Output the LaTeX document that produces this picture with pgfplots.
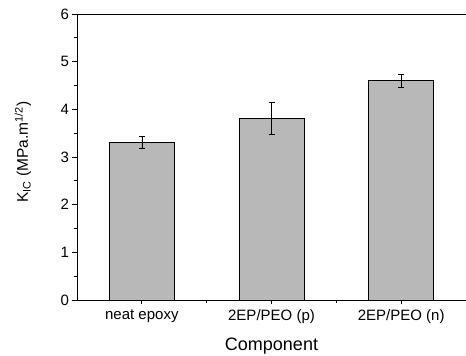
\documentclass[border=0pt]{standalone}
\usepackage{fontspec}
\setmainfont{Liberation Sans}
\usepackage{pgfplots}
\pgfplotsset{compat=1.18}
\begin{document}
\begin{tikzpicture}
\begin{axis}[
  width=389pt, height=286pt, scale only axis,
  xmin=-0.5, xmax=2.5, ymin=0, ymax=6,
  axis x line*=box, axis y line*=left,
  xtick pos=bottom,
  xtick={0,1,2}, xticklabels={neat epoxy,2EP/PEO (p),2EP/PEO (n)},
  minor xtick={0.5,1.5},
  ytick={0,1,2,3,4,5,6}, minor ytick={0.5,1.5,2.5,3.5,4.5,5.5},
  tick align=outside,
  major tick length=4.5pt, minor tick length=3pt,
  tick style={black, line width=0.7pt},
  axis line style={line width=0.9pt},
  ticklabel style={font=\fontsize{15}{17}\selectfont},
  /pgf/number format/assume math mode=true,
  xlabel={Component}, ylabel={K\textsubscript{IC} (MPa.m\textsuperscript{1/2})},
  every axis x label/.style={at={([yshift=-46pt]axis description cs:0.5,0)}, anchor=center, font=\fontsize{18}{20}\selectfont},
  every axis y label/.style={at={([xshift=-54pt,yshift=5pt]axis description cs:0,0.5)}, anchor=center, rotate=90, font=\fontsize{15.5}{18}\selectfont},
  xticklabel style={yshift=-2pt},
  clip=false,
]
\addplot[ybar, bar width=65pt, draw=black, line width=0.7pt, fill=black!28,
  error bars/.cd, y dir=both, y explicit,
  error bar style={black, line width=0.6pt},
  error mark options={rotate=90, mark size=3pt, line width=0.6pt}]
coordinates {
 (0,3.31) +- (0,0.13)
 (1,3.81) +- (0,0.34)
 (2,4.60) +- (0,0.14)
};
\end{axis}
\pgfresetboundingbox
\path[use as bounding box] ([xshift=-77pt,yshift=-56pt]current axis.south west) rectangle ([yshift=14pt]current axis.north east);
\end{tikzpicture}
\end{document}
